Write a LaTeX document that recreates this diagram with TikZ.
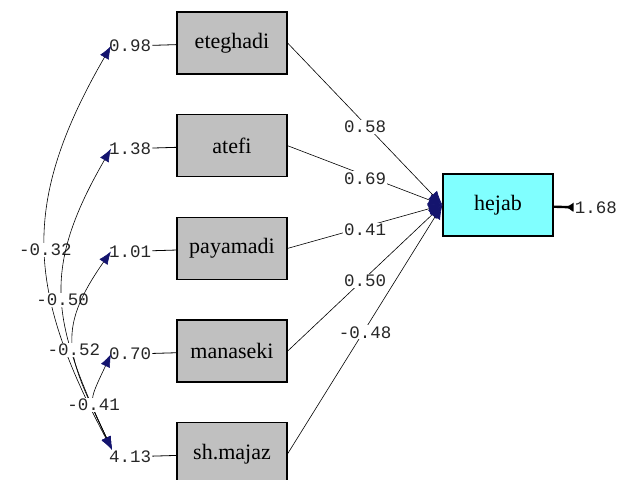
\documentclass[tikz,border=0pt]{standalone}
\usepackage{fontspec}
\setmainfont{Liberation Serif}
\newfontfamily\lisrelmono{Liberation Mono}
\usetikzlibrary{positioning,arrows.meta,calc}

\definecolor{obsgray}{RGB}{192,192,192}
\definecolor{latcyan}{RGB}{128,255,255}
\definecolor{tipnavy}{RGB}{20,20,110}

\begin{document}
\begin{tikzpicture}[x=1pt,y=1pt,
    obsbox/.style={draw,line width=1.2pt,fill=obsgray,minimum width=110pt,
      minimum height=62pt,inner sep=0pt,font=\fontsize{22}{24}\selectfont},
    endobox/.style={obsbox,fill=latcyan},
    errval/.style={inner sep=1pt,yshift=-3pt,text=black!85,font=\lisrelmono\fontsize{17.5}{19}\selectfont},
    coef/.style={errval,fill=white},
    gammapath/.style={line width=0.6pt,-{Latex[length=14pt,width=12pt,color=tipnavy]}},
    phipath/.style={line width=0.6pt,
      {Latex[length=13pt,width=10pt,color=tipnavy]}-{Latex[length=13pt,width=10pt,color=tipnavy]}}]

  % page size of the reference
    \useasboundingbox (0,0) rectangle (623,479);

  % gap between the observed boxes
    \def\boxgap{39.5pt}
  % length of the error lines
    \def\errlen{24pt}

  % Draw the observed variables
    \node[obsbox] (eteghadi) at (232,436) {eteghadi};
    \node[obsbox, below=\boxgap of eteghadi] (atefi) {atefi};
    \node[obsbox, below=\boxgap of atefi] (payamadi) {payamadi};
    \node[obsbox, below=\boxgap of payamadi] (manaseki) {manaseki};
    \node[obsbox, below=\boxgap of manaseki] (shmajaz) {sh.majaz};

  % Draw the dependent variable
    \node[endobox] (hejab) at (498,274) {hejab};

  % Draw the error values
    \node[errval, left=\errlen of eteghadi] (e1) {0.98};
    \node[errval, left=\errlen of atefi] (e2) {1.38};
    \node[errval, left=\errlen of payamadi] (e3) {1.01};
    \node[errval, left=\errlen of manaseki] (e4) {0.70};
    \node[errval, left=\errlen of shmajaz] (e5) {4.13};
    \node[errval, right=20pt of hejab] (e6) {1.68};

    \foreach \e/\b in {e1/eteghadi,e2/atefi,e3/payamadi,e4/manaseki,e5/shmajaz}
      \draw[line width=0.8pt] (\e) -- (\b);
    \draw[line width=2.4pt,-{Latex[length=8pt,width=10pt,reversed,color=black]}] (hejab) -- (e6);

  % Draw the paths to hejab
    \draw[gammapath] (eteghadi.east) -- node[coef] {0.58} (hejab.west);
    \draw[gammapath] (atefi.east) -- node[coef] {0.69} (hejab.west);
    \draw[gammapath] (payamadi.east) -- node[coef] {0.41} (hejab.west);
    \draw[gammapath] (manaseki.east) -- node[coef] {0.50} (hejab.west);
    \draw[gammapath] (shmajaz.east) -- node[coef] {-0.48} (hejab.west);

  % Draw the correlations
    \coordinate (t1) at ($(e1.west)+(3,0)$);
    \coordinate (t2) at ($(e2.west)+(3,0)$);
    \coordinate (t3) at ($(e3.west)+(3,0)$);
    \coordinate (t4) at ($(e4.west)+(3,0)$);
    \coordinate (t5) at ($(e5.north west)+(4,0)$);

    \draw[phipath] (t5) to[out=118,in=240,looseness=1.15] node[coef] {-0.32} (t1);
    \draw[phipath] (t5) to[out=115,in=240,looseness=1.2] node[coef] {-0.50} (t2);
    \draw[phipath] (t5) to[out=115,in=235,looseness=1.3] node[coef] {-0.52} (t3);
    \draw[phipath] (t5) to[out=115,in=245,looseness=1.5] node[coef] {-0.41} (t4);

\end{tikzpicture}
\end{document}
